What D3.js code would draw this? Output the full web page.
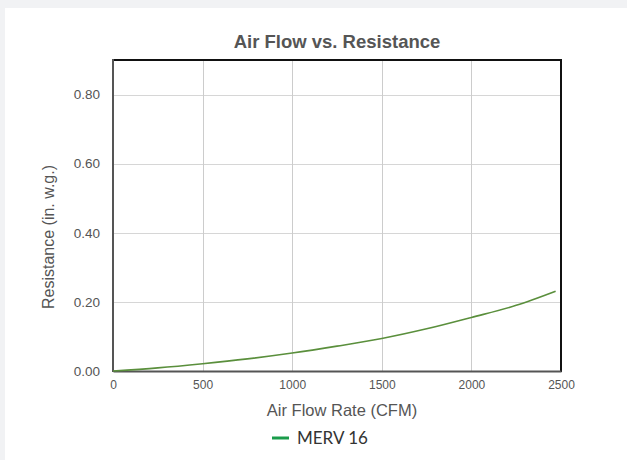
<!DOCTYPE html>
<html>
<head>
<meta charset="utf-8">
<script src="https://cdn.jsdelivr.net/npm/d3@7"></script>
<style>
  body { margin: 0; background: #f1f2f4; }
  svg { display: block; }
</style>
</head>
<body>
<svg id="chart" width="627" height="460"></svg>
<script>
// data
var flow = [0, 250, 500, 750, 1000, 1250, 1500, 1750, 2000, 2250, 2470];
var resistance = [0, 0.009, 0.021, 0.035, 0.052, 0.072, 0.094, 0.122, 0.155, 0.19, 0.231];
var xTicks = [0, 500, 1000, 1500, 2000, 2500];
var yTicks = [0, 0.2, 0.4, 0.6, 0.8];
var seriesName = "MERV 16";

var svg = d3.select("#chart");

// white card
svg.append("rect")
  .attr("x", 5).attr("y", 8)
  .attr("width", 640).attr("height", 470)
  .attr("fill", "#fff");

var plotLeft = 113, plotRight = 561, plotTop = 60, plotBottom = 371;

var x = d3.scaleLinear().domain([0, 2500]).range([plotLeft, plotRight]);
var y = d3.scaleLinear().domain([0, 0.9]).range([plotBottom, plotTop]);

// grid
svg.append("g")
  .selectAll("line")
  .data(yTicks.slice(1))
  .enter()
  .append("line")
  .attr("x1", plotLeft).attr("x2", plotRight)
  .attr("y1", function(d) { return Math.round(y(d)) + 0.5 })
  .attr("y2", function(d) { return Math.round(y(d)) + 0.5 })
  .attr("stroke", "#d6d6d6");

svg.append("g")
  .selectAll("line")
  .data(xTicks.slice(1, -1))
  .enter()
  .append("line")
  .attr("y1", plotTop).attr("y2", plotBottom)
  .attr("x1", function(d) { return Math.round(x(d)) + 0.5 })
  .attr("x2", function(d) { return Math.round(x(d)) + 0.5 })
  .attr("stroke", "#cccccc");

// frame
svg.append("line")
  .attr("x1", plotLeft).attr("x2", plotRight + 1)
  .attr("y1", plotTop).attr("y2", plotTop)
  .attr("stroke", "#111").attr("stroke-width", 2);
svg.append("line")
  .attr("x1", plotRight).attr("x2", plotRight)
  .attr("y1", plotTop).attr("y2", plotBottom + 1)
  .attr("stroke", "#111").attr("stroke-width", 2);

// axes
var xAxis = d3.axisBottom(x).tickValues(xTicks).tickSize(0).tickPadding(9)
  .tickFormat(function(d) { return d });
var gx = svg.append("g").attr("transform", `translate(0, ${plotBottom})`).call(xAxis);
gx.select(".domain").attr("stroke", "#555").attr("stroke-width", 2);
gx.selectAll("text")
  .attr("fill", "#555")
  .style("font-family", "'Liberation Sans', Arial, sans-serif")
  .style("font-size", "12px");

var yAxis = d3.axisLeft(y).tickValues(yTicks).tickSize(0).tickPadding(13)
  .tickFormat(d3.format(".2f"));
var gy = svg.append("g").attr("transform", `translate(${plotLeft}, 0)`).call(yAxis);
gy.select(".domain").remove();
gy.selectAll("text")
  .attr("fill", "#555")
  .style("font-family", "'Liberation Sans', Arial, sans-serif")
  .style("font-size", "13.5px");
svg.append("line")
  .attr("x1", plotLeft).attr("x2", plotLeft)
  .attr("y1", plotTop - 1).attr("y2", plotBottom + 1)
  .attr("stroke", "#555").attr("stroke-width", 2);

// curve
var line = d3.line()
  .x(function(d, i) { return x(flow[i]) })
  .y(function(d) { return y(d) })
  .curve(d3.curveMonotoneX);

svg.append("path")
  .datum(resistance)
  .attr("d", line)
  .attr("fill", "none")
  .attr("stroke", "#5a8f3c")
  .attr("stroke-width", 1.6);

// title and axis titles
svg.append("text")
  .attr("x", (plotLeft + plotRight) / 2).attr("y", 48)
  .attr("text-anchor", "middle")
  .attr("fill", "#555")
  .style("font-family", "'Liberation Sans', Arial, sans-serif")
  .style("font-weight", "bold")
  .style("font-size", "18.5px")
  .text("Air Flow vs. Resistance");

svg.append("text")
  .attr("x", 342).attr("y", 416)
  .attr("text-anchor", "middle")
  .attr("fill", "#555")
  .style("font-family", "'Liberation Sans', Arial, sans-serif")
  .style("font-size", "16.5px")
  .text("Air Flow Rate (CFM)");

svg.append("text")
  .attr("transform", "translate(54, 237) rotate(-90)")
  .attr("text-anchor", "middle")
  .attr("fill", "#555")
  .style("font-family", "'Liberation Sans', Arial, sans-serif")
  .style("font-size", "16px")
  .text("Resistance (in. w.g.)");

// legend
svg.append("line")
  .attr("x1", 272).attr("x2", 289)
  .attr("y1", 438).attr("y2", 438)
  .attr("stroke", "#1a9c4b").attr("stroke-width", 3);
svg.append("text")
  .attr("x", 297).attr("y", 444)
  .attr("fill", "#333")
  .style("font-family", "Lato, sans-serif")
  .style("font-size", "17px")
  .text(seriesName);
</script>
</body>
</html>
